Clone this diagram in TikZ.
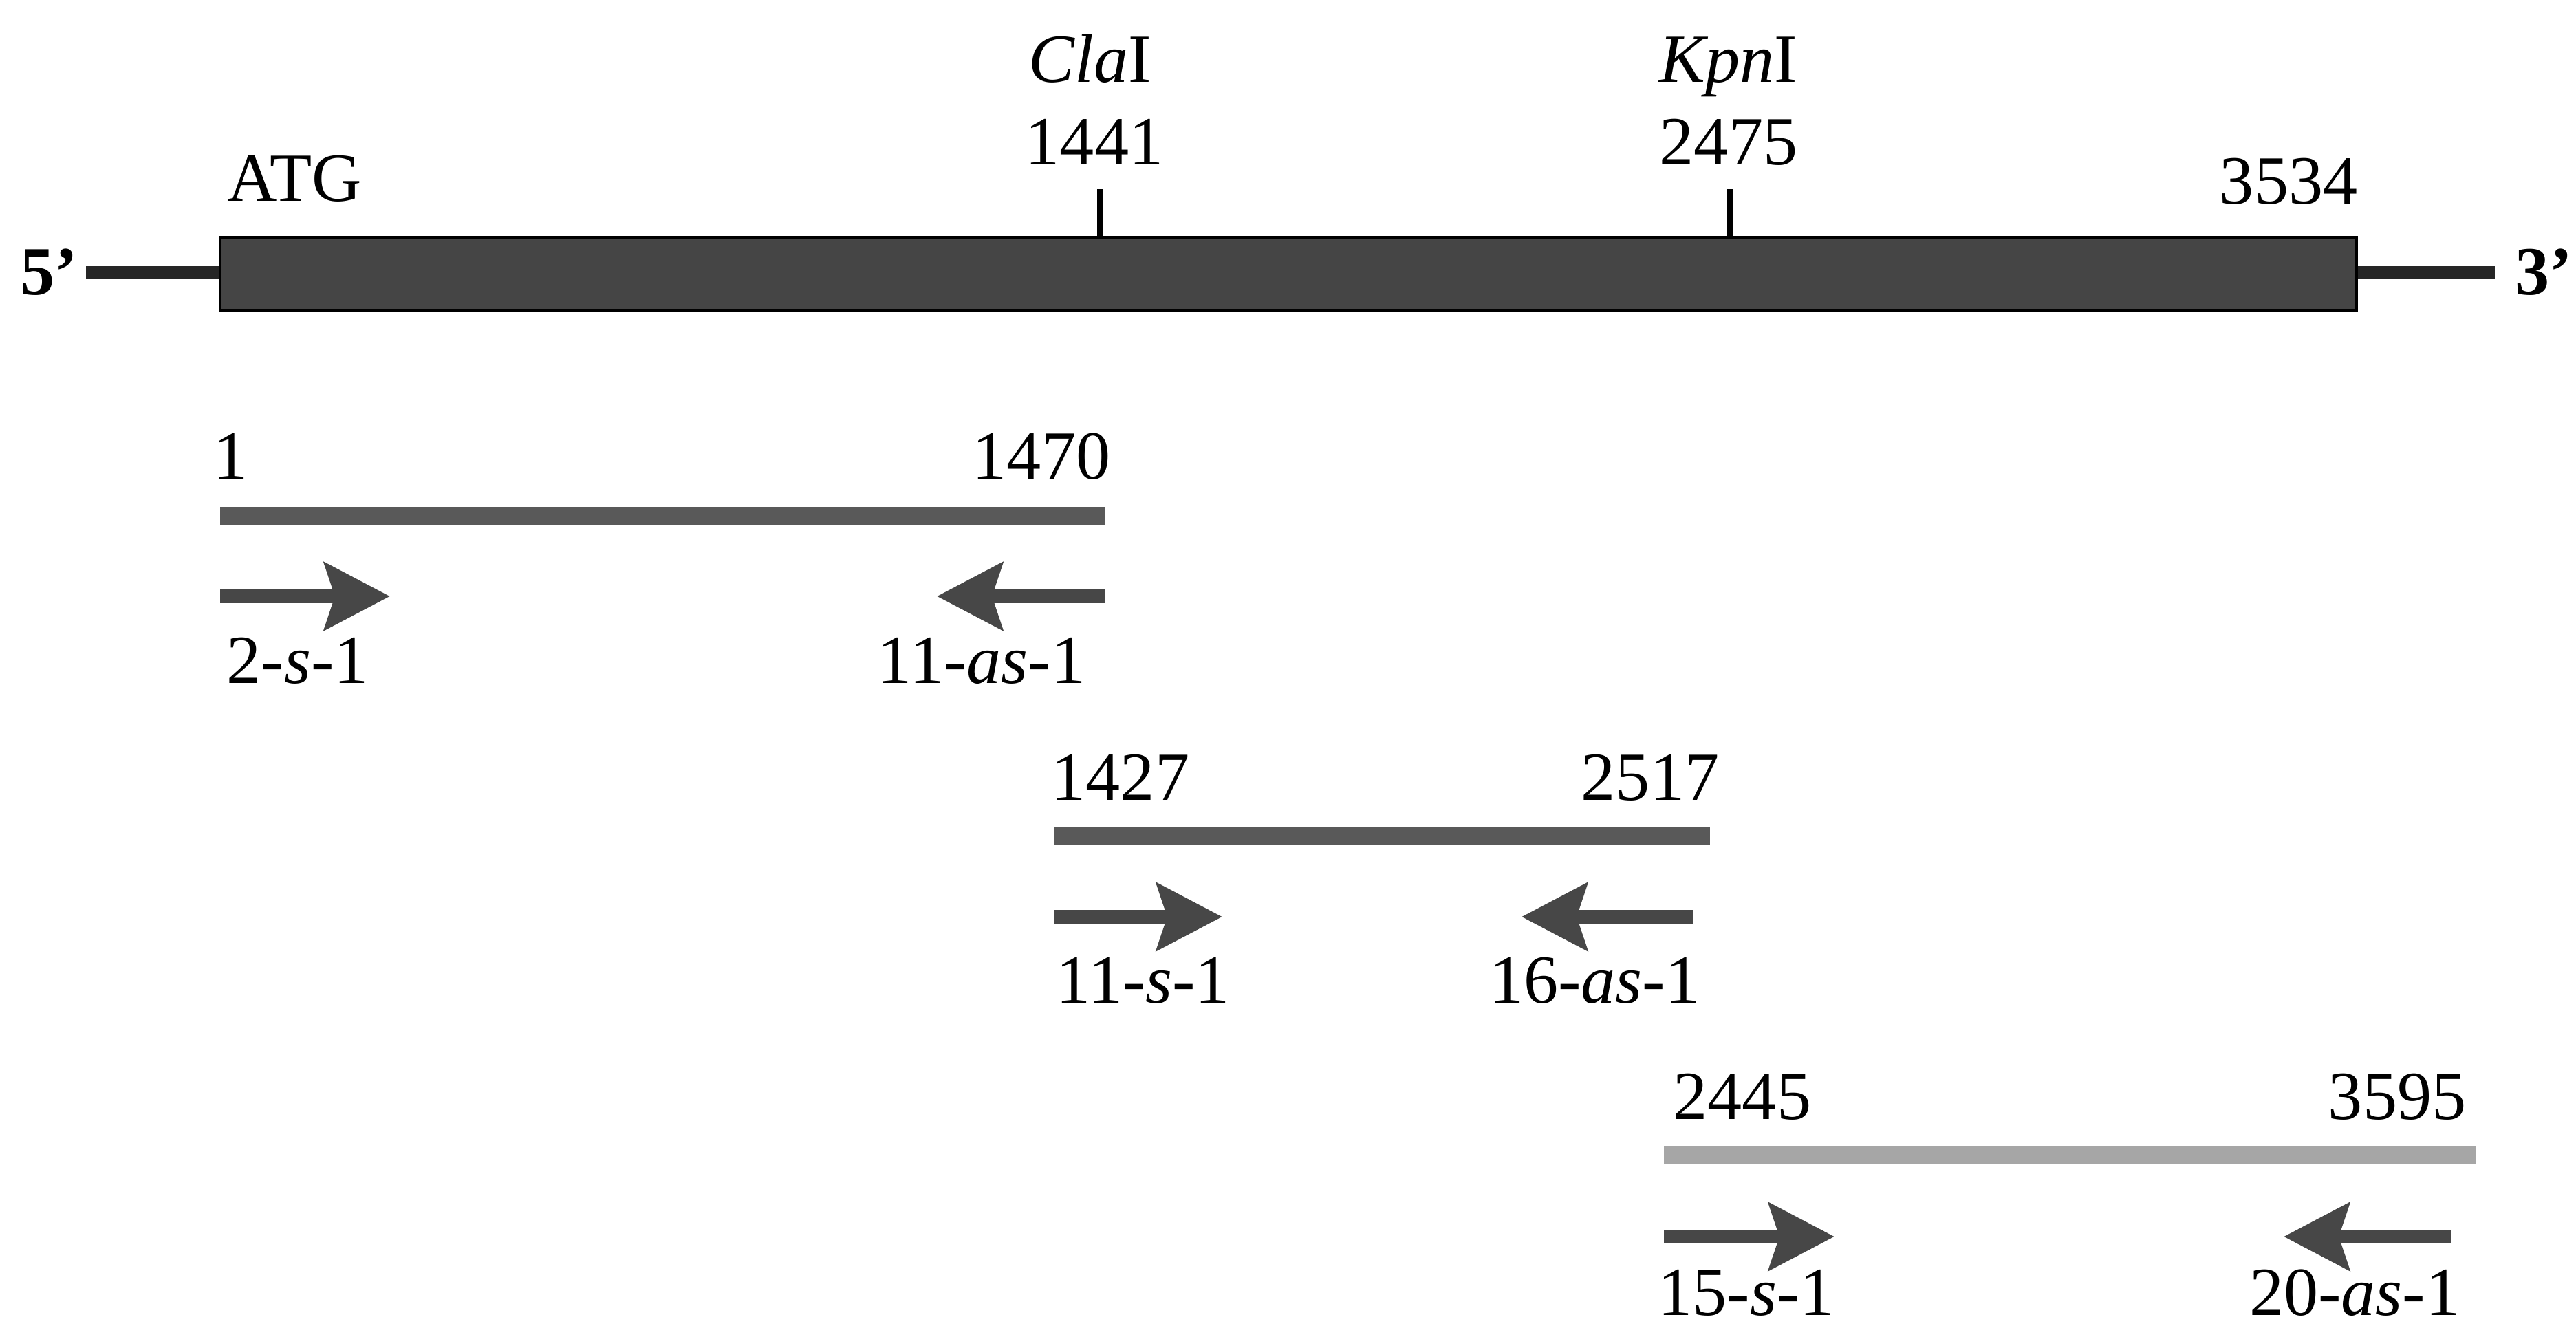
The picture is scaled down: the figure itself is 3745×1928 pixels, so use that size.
\documentclass[tikz,border=0pt]{standalone}
\usepackage{fontspec}
\setmainfont{Liberation Serif}
\usetikzlibrary{arrows.meta,positioning}

\begin{document}
\begin{tikzpicture}[x=0.01cm,y=-0.01cm,font=\fontsize{28.5}{34}\selectfont]
       \tikzstyle{lbl}=[inner sep=0pt]
       \tikzstyle{orf}=[draw=black,line width=1pt,fill=black!73]
       \tikzstyle{flank}=[line width=5pt,draw=black!85]
       \tikzstyle{site}=[line width=2.4pt]
       \tikzstyle{frag}=[line width=7.2pt,draw=black!65]
       \tikzstyle{primer}=[line width=5.7pt,draw=black!72,
                           -{Stealth[length=9.5mm,width=9.7mm,inset=1.5mm]}]

       \useasboundingbox (0,0) rectangle (3745,1928);

       % coding region with flanks
       \coordinate (atg) at (320,345);
       \coordinate (stop) at (3426,452);
       \coordinate (end5) at (125,396);
       \coordinate (end3) at (3627,396);
       \draw[flank] (end5) -- (end5 -| atg);
       \draw[flank] (end3 -| stop) -- (end3);
       \draw[orf] (atg) rectangle (stop);
       \node[lbl,anchor=east,font=\fontsize{28.5}{34}\selectfont\bfseries] (p5) at (114,396) {5’};
       \node[lbl,anchor=west,font=\fontsize{28.5}{34}\selectfont\bfseries] (p3) at (3656,396) {3’};
       \node[lbl,anchor=base west] (atgtxt) at (330,293) {ATG};
       \node[lbl,anchor=base east] (stoptxt) at (3428,297) {3534};

       % restriction sites
       \coordinate (cla) at (1599,347);
       \coordinate (kpn) at (2515,347);
       \node[lbl,anchor=base] (clanum) at (1591,240) {1441};
       \node[lbl,anchor=base] (clatxt) at (1585,120) {\textit{Cla}I};
       \node[lbl,anchor=base] (kpnnum) at (2513,240) {2475};
       \node[lbl,anchor=base] (kpntxt) at (2513,120) {\textit{Kpn}I};
       \draw[site] (cla) -- (cla |- 0,275);
       \draw[site] (kpn) -- (kpn |- 0,275);

       % fragment 1-1470
       \coordinate (fa1) at (320,750);
       \coordinate (fa2) at (1606,750);
       \draw[frag] (fa1) -- (fa2);
       \node[lbl,anchor=base west] (fa1txt) at (310,697) {1};
       \node[lbl,anchor=base east] (fa2txt) at (1615,697) {1470};
       \coordinate (s2) at (320,867);
       \coordinate (s2tip) at (567,867);
       \coordinate (as11) at (1606,867);
       \coordinate (as11tip) at (1362,867);
       \draw[primer] (s2) -- (s2tip);
       \draw[primer] (as11) -- (as11tip);
       \node[lbl,anchor=base west] (s2txt) at (329,993) {2-\textit{s}-1};
       \node[lbl,anchor=base east] (as11txt) at (1579,993) {11-\textit{as}-1};

       % fragment 1427-2517
       \coordinate (fb1) at (1532,1215);
       \coordinate (fb2) at (2486,1215);
       \draw[frag] (fb1) -- (fb2);
       \node[lbl,anchor=base west] (fb1txt) at (1528,1163) {1427};
       \node[lbl,anchor=base east] (fb2txt) at (2500,1163) {2517};
       \coordinate (s11) at (1532,1333);
       \coordinate (s11tip) at (1777,1333);
       \coordinate (as16) at (2461,1333);
       \coordinate (as16tip) at (2212,1333);
       \draw[primer] (s11) -- (s11tip);
       \draw[primer] (as16) -- (as16tip);
       \node[lbl,anchor=base west] (s11txt) at (1535,1458) {11-\textit{s}-1};
       \node[lbl,anchor=base east] (as16txt) at (2472,1458) {16-\textit{as}-1};

       % fragment 2445-3595
       \coordinate (fc1) at (2419,1680);
       \coordinate (fc2) at (3599,1680);
       \draw[frag,draw=black!35] (fc1) -- (fc2);
       \node[lbl,anchor=base west] (fc1txt) at (2432,1627) {2445};
       \node[lbl,anchor=base east] (fc2txt) at (3586,1627) {3595};
       \coordinate (s15) at (2419,1798);
       \coordinate (s15tip) at (2667,1798);
       \coordinate (as20) at (3564,1798);
       \coordinate (as20tip) at (3320,1798);
       \draw[primer] (s15) -- (s15tip);
       \draw[primer] (as20) -- (as20tip);
       \node[lbl,anchor=base west] (s15txt) at (2410,1912) {15-\textit{s}-1};
       \node[lbl,anchor=base east] (as20txt) at (3577,1912) {20-\textit{as}-1};
\end{tikzpicture}
\end{document}
